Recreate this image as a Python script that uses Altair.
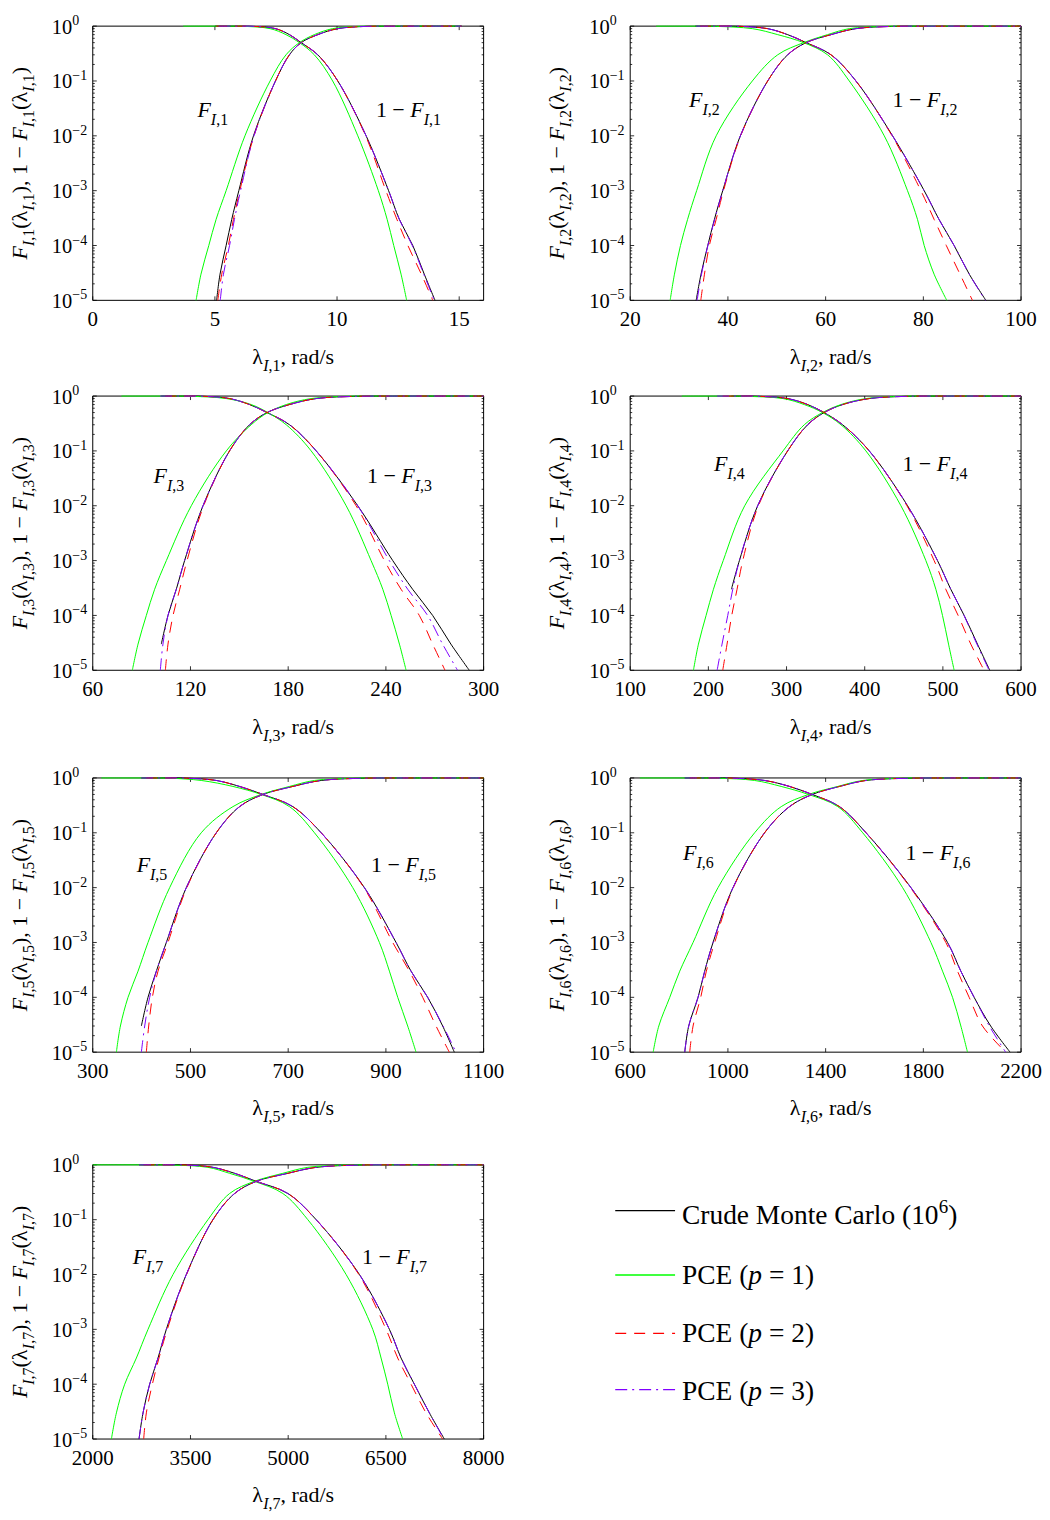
import altair as alt
import pandas as pd

FONT = "Liberation Serif"
W, H = 392, 275

# ---------------- data ----------------
# CDF levels F at which the quantiles (lambda values) were read off the curves
LEVELS = [0, 1e-5, 3e-5, 1e-4, 3e-4, 1e-3, 1e-2, 0.1, 0.3, 0.5, 0.7, 0.9,
          0.99, 0.999, 0.9997, 0.9999, 0.99997, 0.99999, 1]

X_DOMAINS = [[0, 16], [20, 100], [60, 300], [100, 600], [300, 1100], [600, 2200], [2000, 8000]]
X_TICKS = [[0, 5, 10, 15], [20, 40, 60, 80, 100], [60, 120, 180, 240, 300],
           [100, 200, 300, 400, 500, 600], [300, 500, 700, 900, 1100],
           [600, 1000, 1400, 1800, 2200], [2000, 3500, 5000, 6500, 8000]]
Y_TICKS = [1, 1e-1, 1e-2, 1e-3, 1e-4, 1e-5]
Y_EXP = ["0", "\u22121", "\u22122", "\u22123", "\u22124", "\u22125"]

P1_MC = [5.0, 5.07, 5.21, 5.46, 5.69, 5.98, 6.58, 7.48, 8.05, 8.53, 9.21, 10.03, 11.19, 12.11, 12.55, 13.10, 13.57, 14.01, 15.1]
P1_P1 = [3.7, 4.23, 4.43, 4.75, 5.05, 5.46, 6.23, 7.26, 7.91, 8.46, 9.07, 9.82, 10.85, 11.69, 12.05, 12.32, 12.62, 12.85, 15.1]
P1_P2 = [5.05, 5.12, 5.28, 5.55, 5.76, 6.02, 6.60, 7.48, 8.05, 8.53, 9.21, 10.03, 11.17, 12.00, 12.45, 12.90, 13.45, 13.92, 15.1]
P1_P3 = [5.15, 5.22, 5.35, 5.60, 5.80, 6.05, 6.60, 7.48, 8.05, 8.53, 9.21, 10.03, 11.19, 12.11, 12.55, 13.08, 13.55, 13.98, 15.1]

P2_MC = [33.3, 33.5, 34.5, 35.88, 37.24, 38.94, 42.55, 48.14, 52.23, 56.0, 61.1, 66.2, 73.7, 80.17, 83.2, 86.3, 89.4, 92.8, 100]
P2_P1 = [25.3, 28.18, 29.06, 30.29, 31.75, 33.6, 37.6, 45.0, 50.19, 55.5, 60.4, 64.84, 72.0, 76.76, 78.8, 80.17, 82.2, 84.8, 100]
P2_P2 = [34.3, 34.45, 35.2, 36.2, 37.6, 39.1, 42.6, 48.14, 52.23, 56.0, 61.1, 66.2, 73.6, 79.5, 82.2, 84.7, 87.5, 90.05, 100]
P2_P3 = [33.5, 33.7, 34.6, 35.9, 37.3, 38.95, 42.55, 48.14, 52.23, 56.0, 61.1, 66.2, 73.7, 80.17, 83.2, 86.3, 89.4, 92.7, 100]

P3_MC = [102.0, None, 102.1, 106.2, 111.3, 116.4, 127.7, 144.0, 156.3, 167.0, 180.8, 197.2, 222.7, 244.2, 256.4, 268.7, 279.9, 291.2, 300]
P3_P1 = [77.6, 84.3, 87.8, 92.9, 98.0, 105.2, 120.5, 142.0, 157.3, 167.5, 178.8, 194.1, 215.6, 230.9, 238.1, 243.2, 248.3, 252.4, 300]
P3_P2 = [104.5, 104.6, 106.2, 109.3, 113.4, 117.9, 128.1, 144.0, 156.3, 167.0, 180.8, 197.2, 221.7, 239.1, 249.3, 260.5, 268.7, 276.3, 300]
P3_P3 = [101.4, 101.5, 103.1, 106.2, 111.3, 116.4, 127.7, 144.0, 156.3, 167.0, 180.8, 197.2, 222.7, 242.1, 253.4, 265.6, 274.8, 284.0, 300]

P4_MC = [229.4, None, None, None, 229.5, 239.7, 263.1, 301.4, 327.0, 348.0, 371.7, 405.8, 454.8, 493.1, 510.1, 527.2, 544.2, 560.0, 600]
P4_P1 = [166.0, 180.9, 187.3, 197.1, 206.5, 219.0, 246.5, 295.5, 322.7, 346.0, 369.6, 401.5, 446.3, 478.2, 491.0, 499.5, 507.2, 514.4, 600]
P4_P2 = [218.3, 218.4, 223.9, 229.9, 236.7, 244.0, 264.0, 301.4, 327.0, 348.0, 371.7, 405.8, 454.0, 488.8, 503.7, 519.5, 535.7, 552.7, 600]
P4_P3 = [211.1, 211.2, 217.5, 224.8, 231.2, 239.7, 263.1, 301.4, 327.0, 348.0, 371.7, 405.8, 454.8, 493.1, 510.1, 527.0, 543.5, 559.1, 600]

P5_MC = [399.4, None, 399.5, 413.1, 430.2, 450.6, 491.5, 552.8, 600.5, 648.2, 709.5, 767.5, 856.0, 920.8, 951.4, 985.5, 1016.2, 1040.0, 1100]
P5_P1 = [317.7, 348.4, 356.6, 372.2, 392.7, 413.1, 457.4, 522.0, 586.9, 644.8, 702.7, 753.8, 832.2, 886.7, 907.2, 924.2, 944.6, 961.7, 1100]
P5_P2 = [409.6, 409.7, 414.5, 422.0, 433.6, 454.0, 492.5, 552.8, 600.5, 648.2, 709.5, 767.5, 855.0, 914.0, 948.0, 975.3, 1002.6, 1029.8, 1100]
P5_P3 = [399.4, 399.5, 406.3, 416.5, 430.2, 450.6, 491.5, 552.8, 600.5, 648.2, 709.5, 767.5, 856.0, 920.8, 951.4, 985.5, 1017.0, 1043.5, 1100]

P6_MC = [823.2, 823.3, 839.6, 877.8, 905.0, 939.1, 1020.8, 1150.1, 1252.2, 1345.0, 1456.5, 1565.4, 1749.2, 1899.0, 1953.5, 2007.9, 2075.6, 2155.0, 2200]
P6_P1 = [639.5, 694.0, 717.1, 762.0, 802.9, 857.4, 959.5, 1109.3, 1218.2, 1330.0, 1449.7, 1551.8, 1715.2, 1831.0, 1878.6, 1919.5, 1953.5, 1980.7, 2200]
P6_P2 = [843.6, 843.7, 857.4, 888.7, 911.8, 945.9, 1022.0, 1150.1, 1252.2, 1345.0, 1456.5, 1565.4, 1747.0, 1892.2, 1939.9, 1987.5, 2042.0, 2137.3, 2200]
P6_P3 = [823.2, 823.3, 839.6, 877.8, 905.0, 939.1, 1020.8, 1150.1, 1252.2, 1345.0, 1456.5, 1565.4, 1749.2, 1899.0, 1953.5, 2007.9, 2070.0, 2137.0, 2200]

P7_MC = [2710.3, 2710.4, 2771.7, 2873.9, 3001.7, 3129.5, 3436.1, 3845.0, 4177.2, 4509.4, 4994.9, 5429.3, 6093.7, 6553.6, 6732.5, 6936.9, 7166.9, 7396.9, 8000]
P7_P1 = [2000.0, 2286.2, 2362.9, 2490.6, 2669.5, 2848.4, 3231.7, 3768.3, 4100.5, 4480.0, 4918.2, 5301.5, 5889.2, 6298.1, 6425.9, 6528.1, 6630.3, 6758.1, 8000]
P7_P2 = [2781.9, 2782.0, 2822.8, 2914.8, 3017.0, 3144.8, 3440.0, 3845.0, 4177.2, 4509.4, 4994.9, 5429.3, 6085.0, 6502.5, 6681.4, 6885.8, 7115.8, 7371.3, 8000]
P7_P3 = [2710.3, 2710.4, 2771.7, 2873.9, 3001.7, 3129.5, 3436.1, 3845.0, 4177.2, 4509.4, 4994.9, 5429.3, 6093.7, 6553.6, 6732.5, 6936.9, 7166.9, 7390.0, 8000]

PANEL_SERIES = [
    [P1_MC, P1_P1, P1_P2, P1_P3],
    [P2_MC, P2_P1, P2_P2, P2_P3],
    [P3_MC, P3_P1, P3_P2, P3_P3],
    [P4_MC, P4_P1, P4_P2, P4_P3],
    [P5_MC, P5_P1, P5_P2, P5_P3],
    [P6_MC, P6_P1, P6_P2, P6_P3],
    [P7_MC, P7_P1, P7_P2, P7_P3],
]

# ---------------- styles / layout ----------------
COLORS = ["#000000", "#00ff00", "#ff0000", "#8000ff"]
DASHES = [None, None, [11, 8], [12, 5, 2, 5]]

# annotation anchors (pixels inside each plot area)
ANNOT_F = [(105, 91), (59, 81), (61, 87), (84, 75), (44, 94), (53, 82), (40, 99)]
ANNOT_S = [(284, 91), (263, 81), (275, 87), (273, 75), (279, 94), (276, 82), (270, 99)]
BOTTOM_EXT = [80, 80, 91.6, 91.6, 96.4, 96.4, 76]

TS, SS = 22, 16  # title text size, subscript size

W_REG = {" ": .25, "(": .333, ")": .333, ",": .25, "\u2212": .564, "=": .564, "/": .278,
         "\u03bb": .5, "r": .333, "a": .444, "d": .5, "s": .389, "C": .667, "u": .5,
         "e": .444, "M": .889, "o": .5, "n": .5, "t": .278, "l": .278, "P": .556, "E": .611}
W_IT = {"F": .611, "I": .333, "p": .5}


def tw(text, italic, size):
    tab = W_IT if italic else W_REG
    return sum(tab.get(c, 0.5) for c in text) * size


def total_width(parts):
    return sum(tw(t, it, s) for t, it, s, _ in parts)


def runs(parts, x0, y0, vertical=False):
    rows = []
    pos = 0.0
    for text, italic, size, shift in parts:
        lead = len(text) - len(text.lstrip(" "))
        trail = len(text) - len(text.rstrip(" "))
        body = text.strip(" ")
        pos += lead * 0.25 * size
        if vertical:
            rows.append({"t": body, "it": italic, "s": size, "a": 270, "px": x0 + shift, "py": y0 - pos})
        else:
            rows.append({"t": body, "it": italic, "s": size, "a": 0, "px": x0 + pos, "py": y0 + shift})
        pos += tw(body, italic, size) + trail * 0.25 * size
    return rows


def pixel_text(rows):
    layers = []
    for italic in (False, True):
        sub = [r for r in rows if r["it"] == italic]
        if not sub:
            continue
        df = pd.DataFrame(sub)
        layers.append(
            alt.Chart(df).mark_text(font=FONT, fontStyle="italic" if italic else "normal",
                                    align="left", baseline="alphabetic", color="black")
            .encode(
                x=alt.X("px:Q", scale=alt.Scale(domain=[0, W], range=[0, W], nice=False, zero=False), axis=None),
                y=alt.Y("py:Q", scale=alt.Scale(domain=[0, H], range=[0, H], nice=False, zero=False), axis=None),
                text="t:N",
                size=alt.Size("s:Q", scale=None),
                angle=alt.Angle("a:Q", scale=None),
            )
        )
    return layers


def curve_df(lams):
    rows = []
    for lam, F in zip(lams, LEVELS):
        if lam is None:
            continue
        if F > 0:
            rows.append({"lam": lam, "val": F, "curve": "F"})
        if F < 1:
            rows.append({"lam": lam, "val": 1 - F, "curve": "S"})
    return pd.DataFrame(rows)


ONE = [{"a": 0}]


def panel(k):
    i = k - 1
    XS = alt.Scale(domain=X_DOMAINS[i], nice=False, zero=False)
    YS = alt.Scale(type="log", domain=[1e-5, 1], nice=False)
    layers = []
    # frame
    layers.append(alt.Chart(alt.Data(values=ONE)).mark_rect(
        fill="white", fillOpacity=0, stroke="black", strokeWidth=1).encode(
        x=alt.value(0), x2=alt.value(W), y=alt.value(0), y2=alt.value(H)))
    # invisible extent marker (layout)
    layers.append(alt.Chart(alt.Data(values=ONE)).mark_rule(opacity=0, strokeWidth=1).encode(
        x=alt.value(-85), y=alt.value(-16), y2=alt.value(H + BOTTOM_EXT[i])))
    # y ticks (inward, both sides)
    ymaj = pd.DataFrame({"v": Y_TICKS})
    ymin = pd.DataFrame({"v": [m * 10.0 ** e for e in range(-5, 0) for m in range(2, 10)]})
    for df, ln in ((ymaj, 4), (ymin, 2)):
        layers.append(alt.Chart(df).mark_rule(color="black", strokeWidth=0.8).encode(
            y=alt.Y("v:Q", scale=YS, axis=None), x=alt.value(0), x2=alt.value(ln)))
        layers.append(alt.Chart(df).mark_rule(color="black", strokeWidth=0.8).encode(
            y=alt.Y("v:Q", scale=YS, axis=None), x=alt.value(W - ln), x2=alt.value(W)))
    xt = pd.DataFrame({"v": X_TICKS[i], "lab": [str(t) for t in X_TICKS[i]]})
    layers.append(alt.Chart(xt).mark_rule(color="black", strokeWidth=0.8).encode(
        x=alt.X("v:Q", scale=XS, axis=None), y=alt.value(H - 4), y2=alt.value(H)))
    layers.append(alt.Chart(xt).mark_rule(color="black", strokeWidth=0.8).encode(
        x=alt.X("v:Q", scale=XS, axis=None), y=alt.value(0), y2=alt.value(4)))
    # curves
    for s, lams in enumerate(PANEL_SERIES[i]):
        kw = dict(color=COLORS[s], strokeWidth=1, interpolate="catmull-rom")
        if DASHES[s] is not None:
            kw["strokeDash"] = DASHES[s]
        layers.append(alt.Chart(curve_df(lams)).mark_line(**kw).encode(
            x=alt.X("lam:Q", scale=XS, axis=None),
            y=alt.Y("val:Q", scale=YS, axis=None),
            detail="curve:N"))
    # tick labels
    ylab = pd.DataFrame({"v": Y_TICKS, "e": Y_EXP})
    layers.append(alt.Chart(ylab).mark_text(font=FONT, fontSize=20.5, align="left",
                                            baseline="alphabetic", dy=7.5, color="black").encode(
        x=alt.value(-41), y=alt.Y("v:Q", scale=YS, axis=None), text=alt.value("10")))
    layers.append(alt.Chart(ylab).mark_text(font=FONT, fontSize=14, align="left",
                                            baseline="alphabetic", dy=-1, color="black").encode(
        x=alt.value(-20.5), y=alt.Y("v:Q", scale=YS, axis=None), text="e:N"))
    layers.append(alt.Chart(xt).mark_text(font=FONT, fontSize=21, align="center",
                                          baseline="alphabetic", color="black").encode(
        x=alt.X("v:Q", scale=XS, axis=None), y=alt.value(H + 26), text="lab:N"))
    # texts: titles and annotations
    sub = [("I", True, SS, 7), (f",{k}", False, SS, 7)]
    ytitle = ([("F", True, TS, 0)] + sub + [("(\u03bb", False, TS, 0)] + sub +
              [("), 1 \u2212 ", False, TS, 0), ("F", True, TS, 0)] + sub +
              [("(\u03bb", False, TS, 0)] + sub + [(")", False, TS, 0)])
    xtitle = [("\u03bb", False, TS, 0)] + sub + [(", rad/s", False, TS, 0)]
    sub8 = [("I", True, SS, 8), (f",{k}", False, SS, 8)]
    annF = [("F", True, TS, 0)] + sub8
    annS = [("1 \u2212 ", False, TS, 0), ("F", True, TS, 0)] + sub8
    rows = []
    rows += runs(ytitle, -66, H / 2 + total_width(ytitle) / 2, vertical=True)
    rows += runs(xtitle, W / 2 - total_width(xtitle) / 2 + 5, H + 63.5)
    rows += runs(annF, *ANNOT_F[i])
    rows += runs(annS, *ANNOT_S[i])
    layers += pixel_text(rows)
    return alt.layer(*layers).resolve_scale(x="independent", y="independent").properties(width=W, height=H)


def legend_panel():
    layers = []
    line_y = [46, 110.5, 169, 225.5]
    base_y = [59.5, 119.5, 178, 235.5]
    layers.append(alt.Chart(alt.Data(values=ONE)).mark_rule(opacity=0).encode(
        x=alt.value(0), y=alt.value(-16), y2=alt.value(H + 76)))
    for s in range(4):
        kw = dict(color=COLORS[s], strokeWidth=1.3)
        if DASHES[s] is not None:
            kw["strokeDash"] = DASHES[s]
        layers.append(alt.Chart(alt.Data(values=ONE)).mark_rule(**kw).encode(
            x=alt.value(-15), x2=alt.value(45), y=alt.value(line_y[s])))
    LS = 27.5
    rows = []
    rows += runs([("Crude Monte Carlo (10", False, LS, 0), ("6", False, 19, -11), (")", False, LS, 0)], 52, base_y[0])
    for s in range(1, 4):
        rows += runs([("PCE (", False, LS, 0), ("p", True, LS, 0), (f" = {s})", False, LS, 0)], 52, base_y[s])
    layers += pixel_text(rows)
    return alt.layer(*layers).resolve_scale(x="independent", y="independent").properties(width=W, height=H)


rows_ = [
    alt.hconcat(panel(1), panel(2), spacing=147, bounds="flush"),
    alt.hconcat(panel(3), panel(4), spacing=147, bounds="flush"),
    alt.hconcat(panel(5), panel(6), spacing=147, bounds="flush"),
    alt.hconcat(panel(7), legend_panel(), spacing=147, bounds="flush"),
]
chart = alt.vconcat(*rows_, spacing=0).properties(padding=0).configure_view(stroke=None)
chart.save("out.html", embed_options={"renderer": "svg", "actions": False})
